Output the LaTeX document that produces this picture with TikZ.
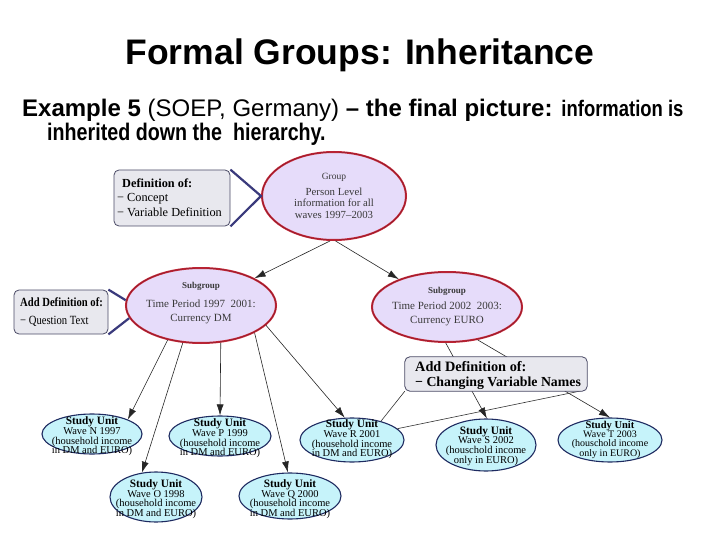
\documentclass[tikz,border=0pt]{standalone}
\usepackage{fontspec}
\setmainfont{Liberation Serif}
\newfontfamily\sansf{Liberation Sans}
\newfontfamily\sansnarrow[FakeStretch=0.82]{Liberation Sans}
\newfontfamily\serifnarrow[FakeStretch=0.85]{Liberation Serif}
\newcommand\suhd{\bfseries\fontsize{11.3}{10.2}\selectfont}
\usetikzlibrary{shapes.geometric,arrows.meta}
\definecolor{lav}{HTML}{E6DCFA}
\definecolor{redb}{HTML}{C42636}
\definecolor{redin}{HTML}{6A1828}
\definecolor{cyanf}{HTML}{C6F3FA}
\definecolor{navyb}{HTML}{1E2A60}
\definecolor{boxf}{HTML}{E8E8EE}
\definecolor{boxd}{HTML}{4A4A66}
\definecolor{calln}{HTML}{3A3A7C}
\definecolor{txtg}{HTML}{3A3A3A}
\tikzset{
  grpell/.style={ellipse, fill=lav, draw=redb, line width=2pt, inner sep=0pt,
    postaction={draw=redin, line width=0.25pt}},
  suell/.style={ellipse, fill=cyanf, draw=navyb, line width=1.1pt, inner sep=0pt},
  defbox/.style={rectangle, rounded corners=5pt, fill=boxf, draw=boxd, line width=0.8pt, inner sep=0pt},
  boxframe/.style={rounded corners=5pt, fill=boxf, draw=boxd, line width=0.8pt},
  conn/.style={draw=black!85, line width=0.6pt, -{Latex[length=11pt,width=7pt]}},
  callthick/.style={draw=calln, line width=2.2pt, line join=miter},
  callthin/.style={draw=black!80, line width=0.6pt},
  eltxt/.style={align=center, font=\fontsize{10.8}{11.5}\selectfont, text=txtg, inner sep=0pt},
  sghead/.style={font=\bfseries\fontsize{9}{10}\selectfont, text=txtg, inner sep=0pt},
  sgtxt/.style={align=center, font=\fontsize{11}{14.5}\selectfont, text=txtg, inner sep=0pt},
  sutxt/.style={align=center, font=\fontsize{10.5}{9.6}\selectfont, text=black, inner sep=0pt},
  boxtxt/.style={anchor=base west, inner sep=0pt, text=black}
}
\begin{document}
\begin{tikzpicture}[x=1pt,y=-1pt]
\useasboundingbox (0,0) rectangle (720,540);
\fill[white] (0,0) rectangle (720,540);

% titles
\node[anchor=base, inner sep=0pt, font=\sansf\bfseries\fontsize{35.5}{40}\selectfont] (title) at (360,64.5) {Formal Groups: Inheritance};
\node[anchor=base west, inner sep=0pt, font=\sansf\fontsize{24}{28}\selectfont] (sub1) at (22,116.5) {\textbf{Example 5} (SOEP, Germany) \textbf{– the final picture:} {\sansnarrow\bfseries\fontsize{22.5}{26}\selectfont information is}};
\node[anchor=base west, inner sep=0pt, font=\sansnarrow\bfseries\fontsize{24}{28}\selectfont] (sub2) at (47,141) {inherited down the\ \ hierarchy.};

% group / subgroup ellipses
\node[grpell, minimum width=144pt, minimum height=88pt] (grp) at (334,196) {};
\node[grpell, minimum width=150pt, minimum height=75pt] (sga) at (201,305.5) {};
\node[grpell, minimum width=150pt, minimum height=70pt] (sgb) at (447,307) {};

% study unit ellipses
\node[suell, minimum width=100pt, minimum height=40pt] (suN) at (92,434) {};
\node[suell, minimum width=102pt, minimum height=40pt] (suP) at (220,436) {};
\node[suell, minimum width=104pt, minimum height=44pt] (suR) at (352,440) {};
\node[suell, minimum width=100pt, minimum height=52pt] (suS) at (486,445) {};
\node[suell, minimum width=104pt, minimum height=44pt] (suT) at (610,440) {};
\node[suell, minimum width=92pt, minimum height=50pt] (suO) at (156,497) {};
\node[suell, minimum width=102pt, minimum height=46pt] (suQ) at (290,496) {};

% connectors
\draw[conn] (grp.265) -- (sga.27);
\draw[conn] (grp.272) -- (sgb.150);
\draw[conn] (sga.226) -- (suN.22);
\draw[conn] (sga.244) -- (suO.120);
\draw[conn] (sga.298) -- (suP.90);
\draw[conn] (sga.333) -- (suQ.95);
\draw[conn] (sga.343) -- (suR.108);
\draw[conn] (sgb.268) -- (suS.88);
\draw[conn] (sgb.313) -- (suT.90);

% texts in group ellipses
\node[font=\fontsize{9.5}{10}\selectfont, text=txtg, inner sep=0pt] (grpH) at (334,177) {Group};
\node[eltxt] (grpT) at (334,203) {Person Level\\information for all\\waves 1997–2003};
\node[sghead] (sgaH) at (201,286) {Subgroup};
\node[sgtxt] (sgaT) at (201,312) {Time Period 1997\ \ 2001:\\Currency DM};
\node[sghead] (sgbH) at (447,291) {Subgroup};
\node[sgtxt] (sgbT) at (447,314) {Time Period 2002\ \ 2003:\\Currency EURO};

% texts in study units
\node[sutxt] (tN) at (92,436.5) {{\suhd Study Unit}\\Wave N 1997\\(household income\\in DM and EURO)};
\node[sutxt] (tP) at (220,438.5) {{\suhd Study Unit}\\Wave P 1999\\(household income\\in DM and EURO)};
\node[sutxt] (tR) at (352,439.5) {{\suhd Study Unit}\\Wave R 2001\\(household income\\in DM and EURO)};
\node[sutxt] (tS) at (486,446) {{\suhd Study Unit}\\Wave S 2002\\(houschold income\\only in EURO)};
\node[sutxt, font=\fontsize{10}{9}\selectfont] (tT) at (610,440) {{\bfseries\fontsize{10.5}{9.6}\selectfont Study Unit}\\Wave T 2003\\(houschold income\\only in EURO)};
\node[sutxt] (tO) at (156,499) {{\suhd Study Unit}\\Wave O 1998\\(household income\\in DM and EURO)};
\node[sutxt] (tQ) at (290,499) {{\suhd Study Unit}\\Wave Q 2000\\(household income\\in DM and EURO)};

% definition boxes with callouts
\node[defbox, minimum width=116pt, minimum height=56pt] (defA) at (172,198) {};
\draw[callthick] (defA.north east) -- (grp.180) -- (defA.south east);
\node[boxtxt, font=\bfseries\fontsize{12.3}{14}\selectfont] (dA1) at (122,188) {Definition of:};
\node[boxtxt, font=\fontsize{12.3}{14}\selectfont] (dA2) at (117,202) {− Concept};
\node[boxtxt, font=\fontsize{12.3}{14}\selectfont] (dA3) at (117,216) {− Variable Definition};

\node[defbox, minimum width=94pt, minimum height=44pt] (defB) at (61,312) {};
\draw[callthick] (defB.north east) -- (sga.176);
\draw[callthick] (defB.south east) -- (sga.190);
\node[boxtxt, font=\serifnarrow\bfseries\fontsize{12.5}{14}\selectfont] (dB1) at (20,306) {Add Definition of:};
\node[boxtxt, font=\serifnarrow\fontsize{12.5}{14}\selectfont] (dB2) at (20,324) {− Question Text};

\node[rectangle, inner sep=0pt, minimum width=182pt, minimum height=34pt] (defC) at (496,374) {};
\draw[callthin] (defC.south west) -- (suR.33);
\draw[callthin] ([xshift=-3pt,yshift=1pt]defC.south east) -- (suR.14);
\draw[boxframe] (defC.south west) rectangle (defC.north east);
\node[boxtxt, font=\bfseries\fontsize{14.3}{16}\selectfont] (dC1) at (415,371) {Add Definition of:};
\node[boxtxt, font=\bfseries\fontsize{13.8}{16}\selectfont] (dC2) at (415,386) {− Changing Variable Names};
\end{tikzpicture}
\end{document}
